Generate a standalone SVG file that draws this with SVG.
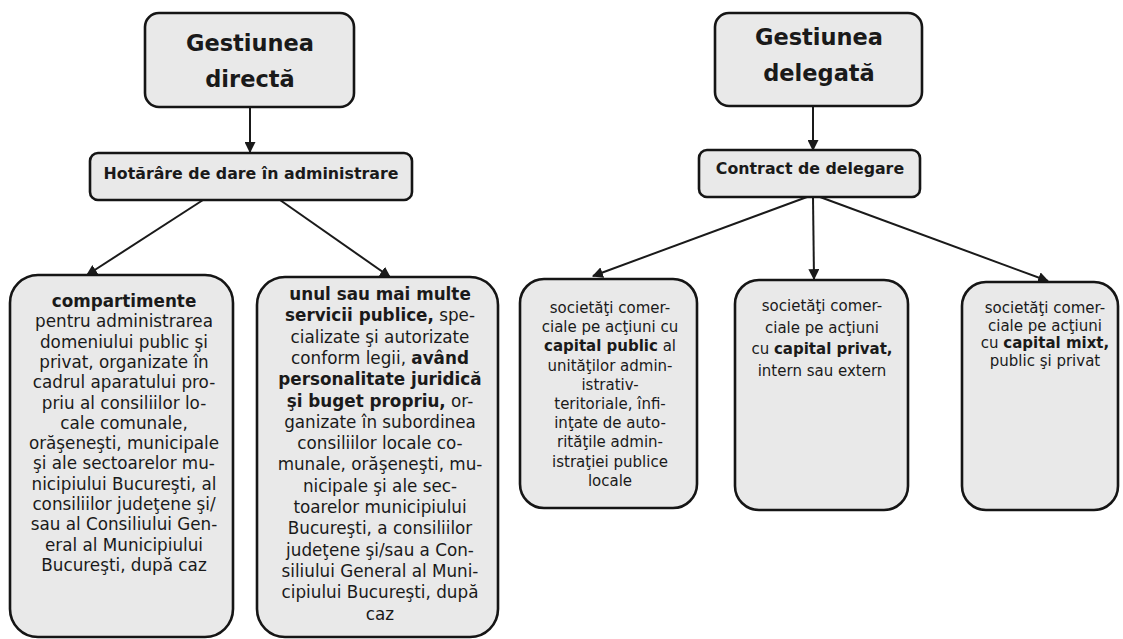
<svg xmlns="http://www.w3.org/2000/svg" width="1123" height="639" viewBox="0 0 1123 639">
<style>
.box{fill:#e9e9e9;stroke:#151515;stroke-width:2.6}
.title{font-family:"DejaVu Sans",Verdana,sans-serif;font-weight:bold;font-size:22.5px;fill:#1a1a1a;text-anchor:middle}
.lbl{font-family:"DejaVu Sans",Verdana,sans-serif;font-weight:bold;font-size:15.8px;fill:#1a1a1a;text-anchor:middle}
.t1{font-family:"DejaVu Sans",Verdana,sans-serif;font-size:16.8px;fill:#1a1a1a;text-anchor:middle}
.t2{font-family:"DejaVu Sans",Verdana,sans-serif;font-size:15px;fill:#1a1a1a;text-anchor:middle}
.b{font-weight:bold}
.con{stroke:#1a1a1a;stroke-width:2;fill:none;marker-end:url(#ah)}
</style>
<defs>
<marker id="ah" viewBox="0 0 10 10" refX="9" refY="5" markerWidth="5.5" markerHeight="5.5" orient="auto" markerUnits="strokeWidth">
<path d="M0,0 L10,5 L0,10 z" fill="#1a1a1a"/>
</marker>
</defs>
<rect width="1123" height="639" fill="#ffffff"/>

<g id="connectors">
<line class="con" x1="250" y1="107" x2="250" y2="152"/>
<line class="con" x1="813" y1="106" x2="813" y2="150"/>
<line class="con" x1="203" y1="200" x2="87" y2="275"/>
<line class="con" x1="280" y1="200" x2="390" y2="277"/>
<line class="con" x1="807" y1="197" x2="593" y2="276"/>
<line class="con" x1="813" y1="197" x2="814" y2="279"/>
<line class="con" x1="820" y1="197" x2="1048" y2="281"/>
</g>

<g id="gestiunea-directa">
<rect class="box" x="145" y="13" width="209" height="94" rx="14"/>
<text class="title" x="250" y="51">Gestiunea</text>
<text class="title" x="250" y="87">directă</text>
</g>

<g id="gestiunea-delegata">
<rect class="box" x="715" y="13" width="207" height="93" rx="14"/>
<text class="title" x="819" y="45">Gestiunea</text>
<text class="title" x="819" y="81">delegată</text>
</g>

<g id="hotarare">
<rect class="box" x="90" y="153" width="322" height="47" rx="8"/>
<text class="lbl" x="251" y="179">Hotărâre de dare în administrare</text>
</g>

<g id="contract">
<rect class="box" x="699" y="150" width="221" height="47" rx="8"/>
<text class="lbl" x="810" y="174">Contract de delegare</text>
</g>

<g id="compartimente">
<rect class="box" x="10" y="275" width="223" height="362" rx="28"/>
<text class="t1" x="124" y="307"><tspan class="b">compartimente</tspan></text>
<text class="t1" x="124" y="327.3">pentru administrarea</text>
<text class="t1" x="124" y="347.6">domeniului public şi</text>
<text class="t1" x="124" y="367.9">privat, organizate în</text>
<text class="t1" x="124" y="388.2">cadrul aparatului pro-</text>
<text class="t1" x="124" y="408.5">priu al consiliilor lo-</text>
<text class="t1" x="124" y="428.8">cale comunale,</text>
<text class="t1" x="124" y="449.1">orăşeneşti, municipale</text>
<text class="t1" x="124" y="469.4">şi ale sectoarelor mu-</text>
<text class="t1" x="124" y="489.7">nicipiului Bucureşti, al</text>
<text class="t1" x="124" y="510">consiliilor judeţene şi/</text>
<text class="t1" x="124" y="530.3">sau al Consiliului Gen-</text>
<text class="t1" x="124" y="550.6">eral al Municipiului</text>
<text class="t1" x="124" y="570.9">Bucureşti, după caz</text>
</g>

<g id="servicii-publice">
<rect class="box" x="257" y="277" width="241" height="360" rx="28"/>
<text class="t1" x="380" y="300"><tspan class="b">unul sau mai multe</tspan></text>
<text class="t1" x="380" y="321.3"><tspan class="b">servicii publice,</tspan> spe-</text>
<text class="t1" x="380" y="342.6">cializate şi autorizate</text>
<text class="t1" x="380" y="363.9">conform legii, <tspan class="b">având</tspan></text>
<text class="t1" x="380" y="385.2"><tspan class="b">personalitate juridică</tspan></text>
<text class="t1" x="380" y="406.5"><tspan class="b">şi buget propriu,</tspan> or-</text>
<text class="t1" x="380" y="427.8">ganizate în subordinea</text>
<text class="t1" x="380" y="449.1">consiliilor locale co-</text>
<text class="t1" x="380" y="470.4">munale, orăşeneşti, mu-</text>
<text class="t1" x="380" y="491.7">nicipale şi ale sec-</text>
<text class="t1" x="380" y="513">toarelor municipiului</text>
<text class="t1" x="380" y="534.3">Bucureşti, a consiliilor</text>
<text class="t1" x="380" y="555.6">judeţene şi/sau a Con-</text>
<text class="t1" x="380" y="576.9">siliului General al Muni-</text>
<text class="t1" x="380" y="598.2">cipiului Bucureşti, după</text>
<text class="t1" x="380" y="619.5">caz</text>
</g>

<g id="capital-public">
<rect class="box" x="520" y="279" width="177" height="229" rx="24"/>
<text class="t2" x="610" y="313">societăţi comer-</text>
<text class="t2" x="610" y="332.2">ciale pe acţiuni cu</text>
<text class="t2" x="610" y="351.4"><tspan class="b">capital public</tspan> al</text>
<text class="t2" x="610" y="370.6">unităţilor admin-</text>
<text class="t2" x="610" y="389.8">istrativ-</text>
<text class="t2" x="610" y="409">teritoriale, înfi-</text>
<text class="t2" x="610" y="428.2">inţate de auto-</text>
<text class="t2" x="610" y="447.4">rităţile admin-</text>
<text class="t2" x="610" y="466.6">istraţiei publice</text>
<text class="t2" x="610" y="485.8">locale</text>
</g>

<g id="capital-privat">
<rect class="box" x="735" y="280" width="173" height="230" rx="24"/>
<text class="t2" x="822" y="311">societăţi comer-</text>
<text class="t2" x="822" y="332.5">ciale pe acţiuni</text>
<text class="t2" x="822" y="354">cu <tspan class="b">capital privat,</tspan></text>
<text class="t2" x="822" y="375.5">intern sau extern</text>
</g>

<g id="capital-mixt">
<rect class="box" x="962" y="282" width="156" height="228" rx="24"/>
<text class="t2" x="1045" y="313">societăţi comer-</text>
<text class="t2" x="1045" y="330.5">ciale pe acţiuni</text>
<text class="t2" x="1045" y="348">cu <tspan class="b">capital mixt,</tspan></text>
<text class="t2" x="1045" y="365.5">public şi privat</text>
</g>
</svg>
